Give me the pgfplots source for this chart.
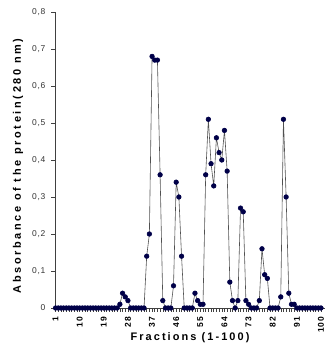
\documentclass[border=0pt]{standalone}
\usepackage{fontspec}
\setmainfont{Liberation Sans}
\newfontfamily\xlblfont[LetterSpace=19]{Liberation Sans}
\newfontfamily\ylblfont[LetterSpace=24]{Liberation Sans}
\newfontfamily\tickfont[LetterSpace=8]{Liberation Sans}
\usepackage{pgfplots}
\pgfplotsset{compat=1.18}
\usepackage{pgfplotstable}
\definecolor{mk}{HTML}{000048}
\definecolor{ln}{HTML}{505050}
\pgfplotstableread{
f v
1 0
2 0
3 0
4 0
5 0
6 0
7 0
8 0
9 0
10 0
11 0
12 0
13 0
14 0
15 0
16 0
17 0
18 0
19 0
20 0
21 0
22 0
23 0
24 0
25 0.01
26 0.04
27 0.03
28 0.02
29 0
30 0
31 0
32 0
33 0
34 0
35 0.14
36 0.20
37 0.68
38 0.67
39 0.67
40 0.36
41 0.02
42 0
43 0
44 0
45 0.06
46 0.34
47 0.30
48 0.14
49 0
50 0
51 0
52 0
53 0.04
54 0.02
55 0.01
56 0.01
57 0.36
58 0.51
59 0.39
60 0.33
61 0.46
62 0.42
63 0.40
64 0.48
65 0.37
66 0.07
67 0.02
68 0
69 0.02
70 0.27
71 0.26
72 0.02
73 0.01
74 0
75 0
76 0
77 0.02
78 0.16
79 0.09
80 0.08
81 0
82 0
83 0
84 0
85 0.03
86 0.51
87 0.30
88 0.04
89 0.01
90 0.01
91 0
92 0
93 0
94 0
95 0
96 0
97 0
98 0
99 0
100 0
}\fractions
\begin{document}
\begin{tikzpicture}
\path[use as bounding box] (0,0) rectangle (330bp,350bp);
\begin{axis}[
  at={(55bp,42bp)}, anchor=south west,
  scale only axis, width=270bp, height=296bp,
  xmin=0.8, xmax=101.5, ymin=0, ymax=0.8,
  axis x line=bottom, axis y line=left,
  axis line style={-, draw=black!75, line width=0.8pt},
  tick align=outside,
  tick style={draw=black!75, line width=0.5pt},
  major tick length=3.5bp, minor tick length=3.5bp,
  xtick={1,10,...,100},
  minor xtick={1,...,100},
  xticklabels={1,10,19,28,37,46,55,64,73,82,91,100},
  xticklabel style={rotate=90, anchor=east, font=\tickfont\fontsize{8.5}{9}\selectfont\bfseries, inner sep=0pt, xshift=-5.5bp},
  ytick={0,0.1,...,0.8},
  yticklabels={0,{0,1},{0,2},{0,3},{0,4},{0,5},{0,6},{0,7},{0,8}},
  yticklabel style={font=\tickfont\fontsize{8.5}{9}\selectfont, inner sep=0pt, xshift=-6bp, text=black!80},
  xlabel={\xlblfont\bfseries Fractions (1-100)},
  ylabel={\ylblfont\bfseries Absorbance of the protein(280 nm)},
  xlabel style={at={(axis description cs:0.5,-0.101)}, anchor=center, font=\fontsize{11}{13}\selectfont},
  ylabel style={at={(axis description cs:-0.137,0.48)}, anchor=center, rotate=0, font=\fontsize{11}{13}\selectfont},
  clip=false,
]
\addplot[color=ln, line width=0.6pt, mark=*, mark size=2.3bp, mark options={fill=mk, draw=mk}] table[x=f, y=v] {\fractions};
\end{axis}
\end{tikzpicture}
\end{document}
